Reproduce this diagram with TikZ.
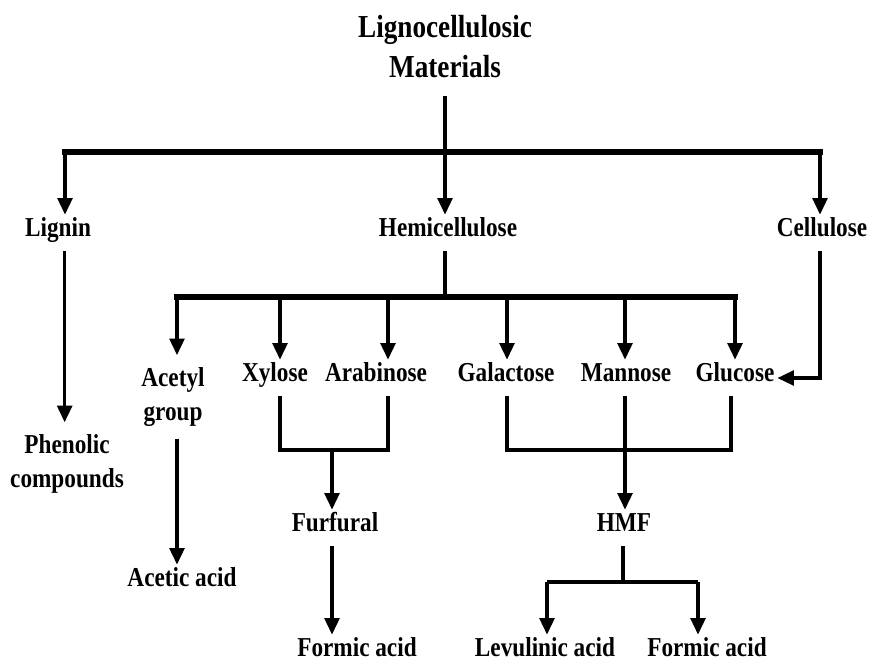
\documentclass[tikz,border=0pt]{standalone}
\usepackage{fontspec}
\setmainfont[FakeStretch=0.85]{Liberation Serif}
\usetikzlibrary{arrows.meta}
\usetikzlibrary{positioning}

\tikzset{
  lbl/.style={font=\bfseries\fontsize{20.5}{25.5}\selectfont, align=center, inner xsep=2pt, inner ysep=9pt},
  one/.style={lbl, text height=0.68em, text depth=0.22em},
  arr/.style={-{Triangle[length=12.5pt,width=11pt]}, line width=2.7pt},
  ln/.style={line width=2.7pt},
  bar/.style={line width=4.4pt, line cap=rect}
}

\begin{document}
\begin{tikzpicture}[x=0.75pt,y=-0.75pt]
    \useasboundingbox (0,0) rectangle (874,662);
    % source material
    \node[lbl, font=\bfseries\fontsize{24}{30}\selectfont] (ligno) at (445,47) {Lignocellulosic\\Materials};
    % three components
    \node[one] (lignin) at (58,233) {Lignin};
    \node[one] (hemi) at (448,233) {Hemicellulose};
    \node[one] (cell) at (822,233) {Cellulose};
    % sugars and acetyl
    \node[lbl] (acetyl) at (173,397) {Acetyl\\group};
    \node[one] (xylose) at (275,378) {Xylose};
    \node[one] (arab) at (376,378) {Arabinose};
    \node[one] (galac) at (506,378) {Galactose};
    \node[one] (mannose) at (626,378) {Mannose};
    \node[one] (glucose) at (735,378) {Glucose};
    % products
    \node[lbl] (phenolic) at (67,464) {Phenolic\\compounds};
    \node[one] (acetic) at (182,583) {Acetic acid};
    \node[one] (furfural) at (335,528) {Furfural};
    \node[one] (hmf) at (624,528) {HMF};
    \node[one] (formic1) at (357,653) {Formic acid};
    \node[one] (levulinic) at (545,653) {Levulinic acid};
    \node[one] (formic2) at (707,653) {Formic acid};

    % first split
    \coordinate (t) at (445,152);
    \coordinate (tL) at (65,152);
    \coordinate (tR) at (820,152);
    \draw[ln] ([yshift=-4pt]ligno.south) -- (t);
    \draw[bar] (tL) -- (tR);
    \draw[arr] (tL) -- (tL |- lignin.north);
    \draw[arr] (t) -- (t |- hemi.north);
    \draw[arr] (tR) -- (tR |- cell.north);

    % hemicellulose split
    \coordinate (h) at (445,297);
    \draw[ln] (h |- hemi.south) -- (h);
    \draw[bar] (177,297) coordinate (hA) -- (735,297) coordinate (hG);
    \coordinate (hX) at (280,297);
    \coordinate (hR) at (388,297);
    \coordinate (hGa) at (507,297);
    \coordinate (hM) at (625,297);
    \draw[arr] (hA) -- (hA |- acetyl.north);
    \draw[arr] (hX) -- (hX |- xylose.north);
    \draw[arr] (hR) -- (hR |- arab.north);
    \draw[arr] (hGa) -- (hGa |- galac.north);
    \draw[arr] (hM) -- (hM |- mannose.north);
    \draw[arr] (hG) -- (hG |- glucose.north);

    % cellulose to glucose
    \draw[arr] ([xshift=-1.5pt]cell.south) |- (glucose.east);

    % lignin and acetyl
    \draw[arr] ([xshift=5pt]lignin.south) -- ([xshift=5pt]lignin.south |- phenolic.north);
    \draw[arr] (hA |- acetyl.south) -- (hA |- acetic.north);

    % pentoses to furfural
    \coordinate (xa) at (332,450);
    \draw[ln, line width=3.4pt] (hX |- xylose.south) |- (xa) -| (hR |- arab.south);
    \draw[arr] (xa) -- (xa |- furfural.north);
    \draw[arr] (xa |- furfural.south) -- (xa |- formic1.north);

    % hexoses to HMF
    \coordinate (gm) at (625,450);
    \draw[ln, line width=3.4pt] (hGa |- galac.south) |- (gm) -| ([xshift=-3pt]hG |- glucose.south);
    \draw[arr] (hM |- mannose.south) -- (hM |- hmf.north);
    \coordinate (hm) at (623,582);
    \coordinate (hmL) at (547,582);
    \coordinate (hmR) at (698,582);
    \draw[ln] (hm |- hmf.south) -- (hm);
    \draw[ln] (hmL) -- (hmR);
    \draw[arr] (hmL) -- (hmL |- levulinic.north);
    \draw[arr] (hmR) -- (hmR |- formic2.north);
\end{tikzpicture}
\end{document}
